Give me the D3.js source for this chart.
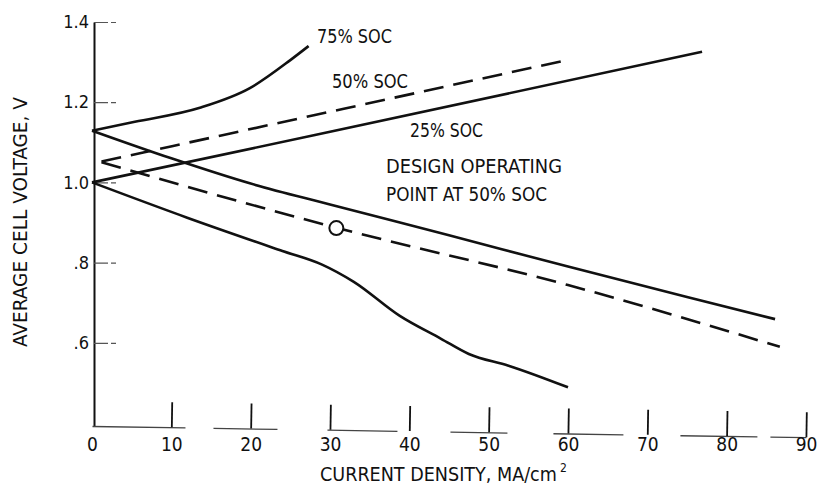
<!DOCTYPE html>
<html>
<head>
<meta charset="utf-8">
<script src="https://cdn.jsdelivr.net/npm/d3@7"></script>
<style>
  html, body { margin: 0; padding: 0; background: #fff; }
  svg { display: block; }
  text { font-family: "Liberation Sans Narrow", "DejaVu Sans Condensed", "Arial Narrow", sans-serif; fill: #111; }
</style>
</head>
<body>
<svg id="chart" width="823" height="494"></svg>
<script>
// ---------- data ----------
const xTickValues = [0, 10, 20, 30, 40, 50, 60, 70, 80, 90];
const yTickValues = [0.6, 0.8, 1.0, 1.2, 1.4];
const yTickLabels = [".6", ".8", "1.0", "1.2", "1.4"];

// current density (MA/cm2) -> average cell voltage (V)
const soc75Charge    = [[0, 1.129], [5.4, 1.151], [13.6, 1.186], [19.9, 1.235], [25.0, 1.305], [27.3, 1.340]];
const soc75Discharge = [[0, 1.129], [10, 1.060], [20, 0.997], [30, 0.945], [45, 0.868], [60, 0.790], [75, 0.714], [86.1, 0.659]];
const soc50Charge    = [[1.2, 1.052], [28.1, 1.168], [60.3, 1.307]];
const soc50Discharge = [[1.2, 1.050], [30.8, 0.887], [60, 0.744], [86.7, 0.590]];
const soc25Charge    = [[0, 1.000], [28.1, 1.118], [76.9, 1.326]];
const soc25Discharge = [[0, 1.000], [12, 0.912], [24, 0.829], [29, 0.795], [33, 0.752], [38.8, 0.667], [44, 0.610], [47.5, 0.572], [52.5, 0.543], [60, 0.489]];
const designPoint    = [[30.8, 0.886]];

const curveLabels = ["75% SOC", "50% SOC", "25% SOC"];
const noteLines = ["DESIGN OPERATING", "POINT AT 50% SOC"];
const xTitle = "CURRENT DENSITY, MA/cm";
const yTitle = "AVERAGE CELL VOLTAGE, V";

// ---------- drawing ----------
const svg = d3.select("#chart");
const x = d3.scaleLinear().domain([0, 90]).range([92, 806]);
const y = d3.scaleLinear().domain([0.3925, 1.4]).range([426, 22]);
const font = '"Liberation Sans Narrow", "DejaVu Sans Condensed", sans-serif';

// y axis
const yAxis = svg.append("g").attr("transform", "translate(94,0)")
  .call(d3.axisLeft(y).tickValues(yTickValues).tickSize(-22).tickSizeOuter(0).tickPadding(5)
    .tickFormat((d, i) => yTickLabels[i]));
yAxis.select(".domain").attr("stroke", "#111").attr("stroke-width", 2);
yAxis.selectAll(".tick line").attr("stroke", "#555").attr("stroke-width", 1.2).attr("stroke-dasharray", "14,3");
yAxis.selectAll(".tick text").attr("font-size", 18).attr("fill", "#111").style("font-family", font);

// x axis line and ticks (slightly tilted, as in the scanned original)
const xAxis = svg.append("g").attr("transform", "translate(0,426) rotate(0.9,92,0)")
  .call(d3.axisBottom(x).tickValues(xTickValues).tickSize(-25).tickSizeOuter(0).tickFormat(""));
xAxis.select(".domain").attr("stroke", "#444").attr("stroke-width", 1.3)
  .attr("stroke-dasharray", "93,28,64,50,70,53,57,46,70,57,77,13,40");
xAxis.selectAll(".tick line").attr("stroke", "#111").attr("stroke-width", 1.8)
  .attr("opacity", (d, i) => i === 0 ? 0 : 1);

// x tick labels
const xLabels = svg.append("g").attr("transform", "translate(0,426)")
  .call(d3.axisBottom(x).tickValues(xTickValues).tickSize(0).tickPadding(12).tickFormat(d3.format("d")));
xLabels.select(".domain").remove();
xLabels.selectAll(".tick text").attr("font-size", 19).attr("fill", "#111").style("font-family", font);

// curves
const line = d3.line().x(d => x(d[0])).y(d => y(d[1])).curve(d3.curveMonotoneX);
const series = [
  { data: soc75Charge, dash: null },
  { data: soc75Discharge, dash: null },
  { data: soc50Charge, dash: "20,10" },
  { data: soc50Discharge, dash: "20,10" },
  { data: soc25Charge, dash: null },
  { data: soc25Discharge, dash: null }
];
svg.append("g").selectAll("path").data(series).join("path")
  .attr("d", d => line(d.data))
  .attr("fill", "none")
  .attr("stroke", "#111")
  .attr("stroke-width", 2.6)
  .attr("stroke-dasharray", d => d.dash);

// design operating point
svg.append("g").selectAll("circle").data(designPoint).join("circle")
  .attr("cx", d => x(d[0])).attr("cy", d => y(d[1])).attr("r", 7)
  .attr("fill", "#fff").attr("stroke", "#111").attr("stroke-width", 2);

// annotations
const ann = [
  { t: curveLabels[0], x: 317, y: 43, w: 75 },
  { t: curveLabels[1], x: 332, y: 88, w: 76 },
  { t: curveLabels[2], x: 410, y: 137, w: 73 },
  { t: noteLines[0], x: 386, y: 173, w: 176 },
  { t: noteLines[1], x: 386, y: 201, w: 161 }
];
svg.append("g").selectAll("text").data(ann).join("text")
  .attr("x", d => d.x).attr("y", d => d.y)
  .attr("font-size", 20)
  .attr("textLength", d => d.w).attr("lengthAdjust", "spacingAndGlyphs")
  .text(d => d.t);

// x title: size the font so that its natural width matches the original
const xt = svg.append("text").attr("x", 320).attr("y", 481).attr("font-size", 22).text(xTitle);
const natural = xt.node().getComputedTextLength();
const fs = Math.min(22, 22 * 237 / natural);
xt.attr("font-size", fs);
const titleEnd = 320 + xt.node().getComputedTextLength();
svg.append("text").attr("x", titleEnd + 3).attr("y", 472).attr("font-size", 12).text("2");

// y title
svg.append("text")
  .attr("transform", "translate(27,222) rotate(-90)")
  .attr("text-anchor", "middle")
  .attr("font-size", 19)
  .attr("textLength", 250).attr("lengthAdjust", "spacingAndGlyphs")
  .text(yTitle);
</script>
</body>
</html>
